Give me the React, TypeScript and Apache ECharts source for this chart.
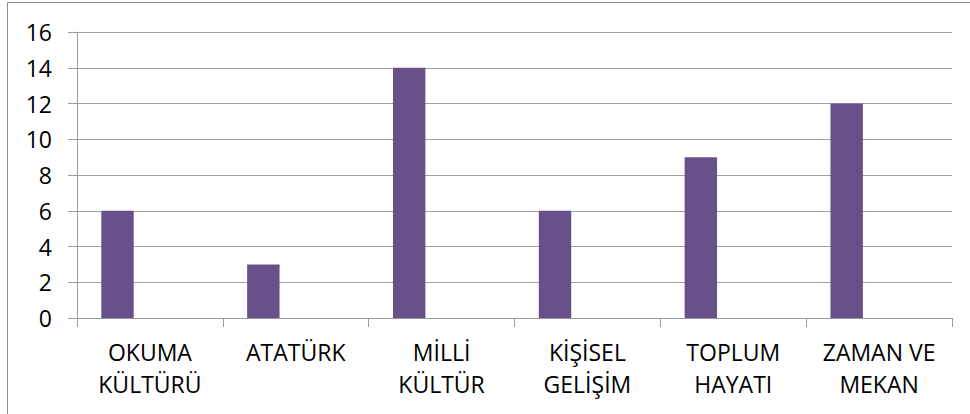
import React, { useEffect, useRef } from "react";
import * as echarts from "echarts";

const categories = [
  "OKUMA\nKÜLTÜRÜ",
  "ATATÜRK",
  "MİLLİ\nKÜLTÜR",
  "KİŞİSEL\nGELİŞİM",
  "TOPLUM\nHAYATI",
  "ZAMAN VE\nMEKAN",
];
const series1 = [6, 3, 14, 6, 9, 12];
const series2: (number | null)[] = [null, null, null, null, null, null];
const series3: (number | null)[] = [null, null, null, null, null, null];
const yMin = 0;
const yMax = 16;
const yInterval = 2;

const FONT = "'Open Sans', 'Liberation Sans', sans-serif";

export default function App() {
  const ref = useRef<HTMLDivElement>(null);
  useEffect(() => {
    if (!ref.current) return;
    const chart = echarts.init(ref.current, undefined, { renderer: "svg" });
    chart.setOption({
      animation: false,
      backgroundColor: "#ffffff",
      textStyle: { fontFamily: FONT },
      graphic: [
        {
          type: "rect",
          shape: { x: 7.5, y: 2.5, width: 1200, height: 600 },
          style: { fill: "none", stroke: "#8c8c8c", lineWidth: 1 },
          silent: true,
        },
      ],
      grid: { left: 77, right: 18, top: 32, bottom: 96, containLabel: false },
      xAxis: {
        type: "category",
        data: categories,
        axisLine: { show: true, lineStyle: { color: "#9a9a9a", width: 1 } },
        axisTick: { show: true, length: 9, alignWithLabel: false, lineStyle: { color: "#9a9a9a" } },
        axisLabel: {
          interval: 0,
          color: "#000000",
          fontSize: 23,
          fontFamily: FONT,
          lineHeight: 32,
          margin: 18,
        },
        splitLine: { show: false },
      },
      yAxis: {
        type: "value",
        min: yMin,
        max: yMax,
        interval: yInterval,
        axisLine: { show: true, lineStyle: { color: "#9a9a9a", width: 1 } },
        axisTick: { show: true, length: 9, lineStyle: { color: "#9a9a9a" } },
        axisLabel: {
          color: "#000000",
          fontSize: 23,
          fontFamily: FONT,
          margin: 25,
        },
        splitLine: { show: true, lineStyle: { color: "#a0a0a0", width: 1 } },
      },
      series: [
        {
          type: "bar",
          data: series1,
          barGap: "0%",
          barCategoryGap: "33.33%",
          itemStyle: { color: "#68508a" },
        },
        { type: "bar", data: series2, itemStyle: { color: "#c0504d" } },
        { type: "bar", data: series3, itemStyle: { color: "#9bbb59" } },
      ],
    });
    return () => chart.dispose();
  }, []);
  return <div ref={ref} style={{ width: 970, height: 414, position: "absolute", left: 0, top: 0 }} />;
}
